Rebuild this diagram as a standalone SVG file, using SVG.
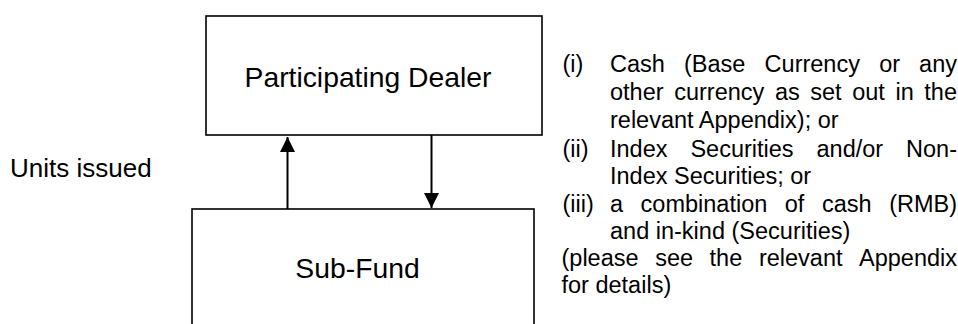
<svg xmlns="http://www.w3.org/2000/svg" width="958" height="324" viewBox="0 0 958 324">
<style>
.box{fill:#fff;stroke:#000;stroke-width:1.6}
.lbl{font-family:"Liberation Sans",Arial,sans-serif;fill:#000}
.big{font-size:28.3px}
.mid{font-size:26px}
.sm{font-size:23.5px}
.conn{stroke:#000;stroke-width:2;fill:none}
</style>
<defs>
<marker id="ah" markerWidth="15" markerHeight="15" refX="15" refY="7.5" orient="auto" markerUnits="userSpaceOnUse">
<path d="M0,0 L15,7.5 L0,15 Z" fill="#000"/>
</marker>
</defs>
<g id="dealer">
<rect class="box" x="206" y="16" width="336" height="119"/>
<text class="lbl big" x="368" y="87" text-anchor="middle">Participating Dealer</text>
</g>
<g id="subfund">
<rect class="box" x="192" y="209" width="342" height="130"/>
<text class="lbl big" x="357.5" y="278" text-anchor="middle">Sub-Fund</text>
</g>
<g id="connectors">
<line class="conn" x1="287.5" y1="209" x2="287.5" y2="137" marker-end="url(#ah)"/>
<line class="conn" x1="431.5" y1="135" x2="431.5" y2="208" marker-end="url(#ah)"/>
</g>
<g id="units-label">
<text class="lbl mid" x="10" y="177">Units issued</text>
</g>
<g id="notes" class="lbl sm">
<text y="72"><tspan x="562.5">(i)</tspan><tspan x="610">Cash</tspan><tspan x="684">(Base</tspan><tspan x="764.6">Currency</tspan><tspan x="879.2">or</tspan><tspan x="957" text-anchor="end">any</tspan></text>
<text y="100"><tspan x="610">other</tspan><tspan x="674.2">currency</tspan><tspan x="774.9">as</tspan><tspan x="810.3">set</tspan><tspan x="852.2">out</tspan><tspan x="895.5">in</tspan><tspan x="957" text-anchor="end">the</tspan></text>
<text x="610" y="128">relevant Appendix); or</text>
<text y="156.5"><tspan x="562.5">(ii)</tspan><tspan x="610">Index</tspan><tspan x="690.4">Securities</tspan><tspan x="816.5">and/or</tspan><tspan x="957" text-anchor="end">Non-</tspan></text>
<text x="610" y="184">Index Securities; or</text>
<text y="211.5"><tspan x="562.5">(iii)</tspan><tspan x="610">a</tspan><tspan x="640.6">combination</tspan><tspan x="784.8">of</tspan><tspan x="821.9">cash</tspan><tspan x="957" text-anchor="end">(RMB)</tspan></text>
<text x="610" y="238.5">and in-kind (Securities)</text>
<text y="265.5"><tspan x="561.5">(please</tspan><tspan x="655.2">see</tspan><tspan x="709.6">the</tspan><tspan x="758.9">relevant</tspan><tspan x="957" text-anchor="end">Appendix</tspan></text>
<text x="561.5" y="293">for details)</text>
</g>
</svg>
